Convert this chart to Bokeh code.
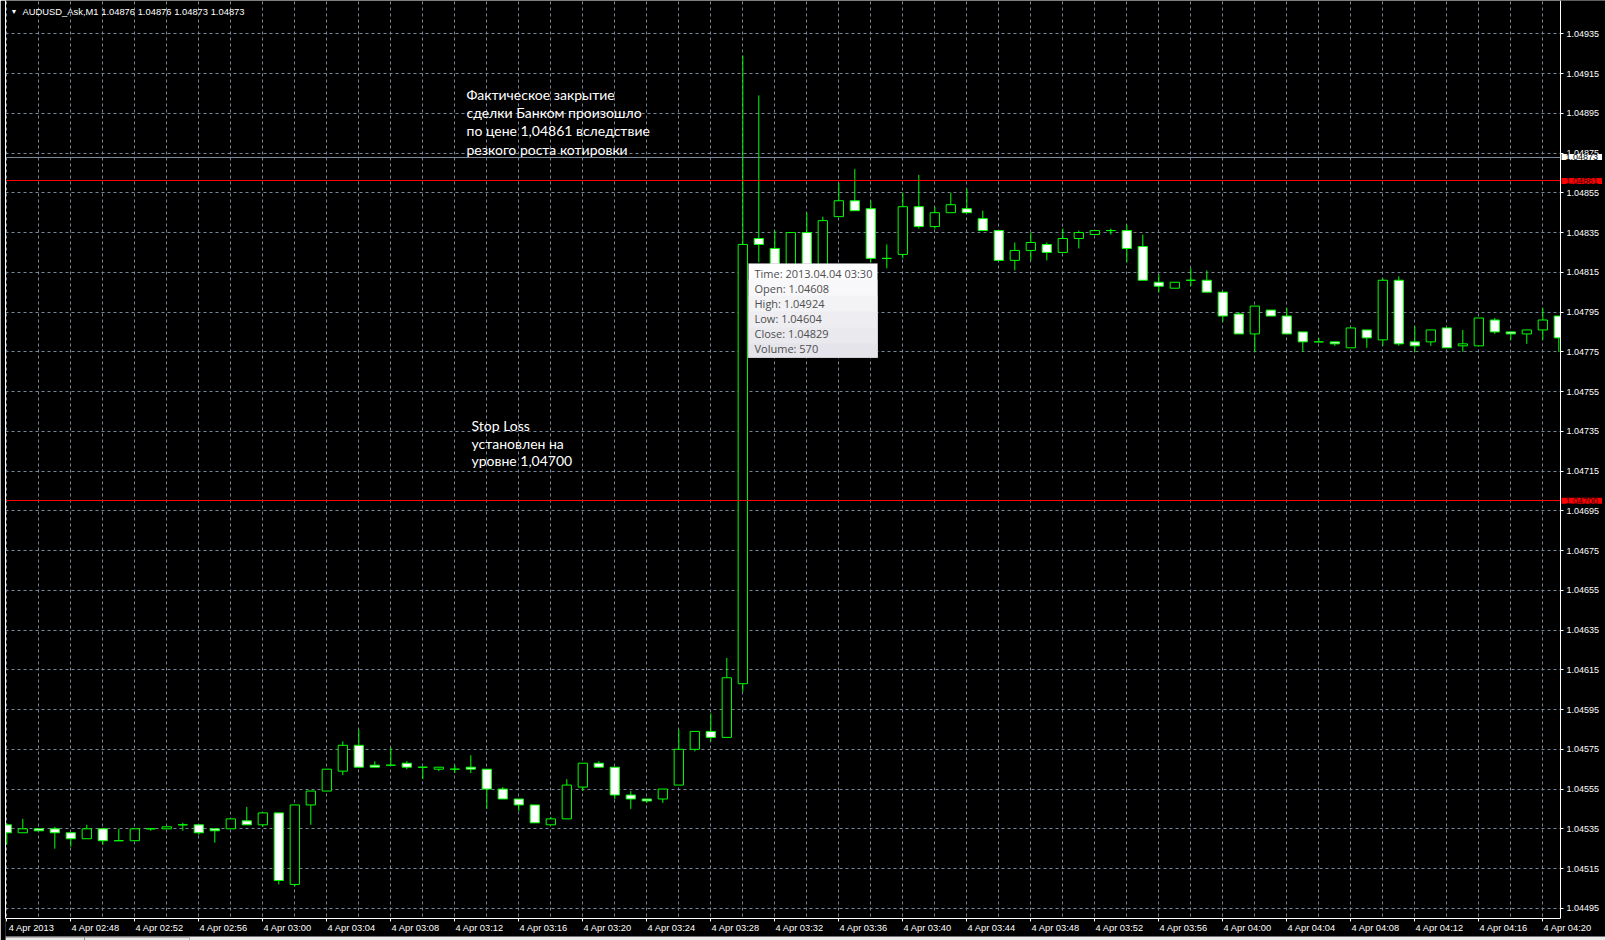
import pandas as pd
from bokeh.plotting import figure
from bokeh.models import (Range1d, LinearAxis, FixedTicker, NumeralTickFormatter,
                          Label, BoxAnnotation, ColumnDataSource)
from bokeh.embed import file_html
from bokeh.resources import INLINE

# ---- chart data -------------------------------------------------------------
symbol = "AUDUSD_Ask,M1"
last_quote = ["1.04876", "1.04876", "1.04873", "1.04873"]
start_time = "2013-04-04 02:44"

opens = [1.04537, 1.04533, 1.04535, 1.04535, 1.04533, 1.04530, 1.04535, 1.04529, 1.04529, 1.04535,
         1.04535, 1.04537, 1.04537, 1.04535, 1.04535, 1.04539, 1.04537, 1.04543, 1.04507, 1.04547,
         1.04554, 1.04564, 1.04577, 1.04567, 1.04567, 1.04568, 1.04566, 1.04565, 1.04565, 1.04566,
         1.04565, 1.04555, 1.04550, 1.04547, 1.04537, 1.04540, 1.04556, 1.04568, 1.04566, 1.04552,
         1.04550, 1.04550, 1.04557, 1.04575, 1.04584, 1.04581, 1.04608, 1.04832, 1.04827, 1.04815,
         1.04835, 1.04818, 1.04843, 1.04851, 1.04847, 1.04822, 1.04824, 1.04848, 1.04838, 1.04845,
         1.04847, 1.04842, 1.04836, 1.04821, 1.04826, 1.04829, 1.04825, 1.04832, 1.04834, 1.04836,
         1.04836, 1.04828, 1.04810, 1.04807, 1.04811, 1.04811, 1.04805, 1.04794, 1.04784, 1.04796,
         1.04793, 1.04785, 1.04780, 1.04780, 1.04777, 1.04786, 1.04781, 1.04811, 1.04780, 1.04780,
         1.04787, 1.04778, 1.04778, 1.04791, 1.04785, 1.04784, 1.04786, 1.04793]
highs = [1.04538, 1.04540, 1.04535, 1.04536, 1.04533, 1.04537, 1.04535, 1.04535, 1.04535, 1.04535,
         1.04536, 1.04538, 1.04537, 1.04535, 1.04540, 1.04546, 1.04543, 1.04543, 1.04547, 1.04554,
         1.04565, 1.04579, 1.04585, 1.04569, 1.04576, 1.04569, 1.04566, 1.04566, 1.04567, 1.04572,
         1.04565, 1.04556, 1.04550, 1.04547, 1.04541, 1.04560, 1.04568, 1.04569, 1.04566, 1.04554,
         1.04550, 1.04555, 1.04585, 1.04584, 1.04593, 1.04621, 1.04924, 1.04904, 1.04836, 1.04835,
         1.04845, 1.04843, 1.04860, 1.04867, 1.04851, 1.04829, 1.04855, 1.04864, 1.04848, 1.04855,
         1.04857, 1.04846, 1.04836, 1.04830, 1.04835, 1.04830, 1.04837, 1.04836, 1.04836, 1.04837,
         1.04839, 1.04834, 1.04814, 1.04810, 1.04817, 1.04816, 1.04805, 1.04795, 1.04798, 1.04796,
         1.04797, 1.04785, 1.04782, 1.04780, 1.04787, 1.04786, 1.04812, 1.04813, 1.04788, 1.04786,
         1.04787, 1.04786, 1.04792, 1.04792, 1.04785, 1.04786, 1.04797, 1.04793]
lows = [1.04527, 1.04533, 1.04534, 1.04525, 1.04526, 1.04530, 1.04527, 1.04529, 1.04529, 1.04534,
        1.04535, 1.04534, 1.04532, 1.04528, 1.04535, 1.04537, 1.04536, 1.04507, 1.04506, 1.04537,
        1.04554, 1.04562, 1.04566, 1.04566, 1.04567, 1.04565, 1.04560, 1.04564, 1.04563, 1.04563,
        1.04545, 1.04550, 1.04544, 1.04538, 1.04537, 1.04540, 1.04554, 1.04566, 1.04550, 1.04545,
        1.04548, 1.04548, 1.04557, 1.04574, 1.04579, 1.04581, 1.04604, 1.04820, 1.04812, 1.04813,
        1.04815, 1.04816, 1.04843, 1.04846, 1.04820, 1.04817, 1.04822, 1.04837, 1.04837, 1.04845,
        1.04845, 1.04836, 1.04821, 1.04816, 1.04821, 1.04821, 1.04825, 1.04827, 1.04834, 1.04834,
        1.04820, 1.04811, 1.04805, 1.04807, 1.04808, 1.04805, 1.04790, 1.04784, 1.04775, 1.04793,
        1.04784, 1.04775, 1.04780, 1.04778, 1.04777, 1.04777, 1.04778, 1.04778, 1.04775, 1.04778,
        1.04777, 1.04775, 1.04778, 1.04784, 1.04781, 1.04779, 1.04781, 1.04775]
closes = [1.04533, 1.04535, 1.04534, 1.04533, 1.04530, 1.04535, 1.04529, 1.04529, 1.04535, 1.04535,
          1.04536, 1.04537, 1.04533, 1.04534, 1.04540, 1.04537, 1.04543, 1.04509, 1.04547, 1.04554,
          1.04565, 1.04577, 1.04566, 1.04566, 1.04567, 1.04566, 1.04566, 1.04566, 1.04565, 1.04565,
          1.04555, 1.04550, 1.04547, 1.04538, 1.04540, 1.04557, 1.04568, 1.04566, 1.04552, 1.04550,
          1.04549, 1.04555, 1.04575, 1.04584, 1.04581, 1.04611, 1.04829, 1.04829, 1.04815, 1.04835,
          1.04818, 1.04841, 1.04851, 1.04846, 1.04822, 1.04822, 1.04848, 1.04838, 1.04845, 1.04849,
          1.04845, 1.04836, 1.04821, 1.04826, 1.04830, 1.04825, 1.04832, 1.04835, 1.04836, 1.04836,
          1.04827, 1.04811, 1.04808, 1.04810, 1.04811, 1.04805, 1.04793, 1.04784, 1.04798, 1.04793,
          1.04784, 1.04780, 1.04780, 1.04779, 1.04787, 1.04782, 1.04811, 1.04779, 1.04778, 1.04786,
          1.04777, 1.04779, 1.04792, 1.04785, 1.04784, 1.04786, 1.04791, 1.04782]

price_ticks = [1.04495, 1.04515, 1.04535, 1.04555, 1.04575, 1.04595, 1.04615, 1.04635,
               1.04655, 1.04675, 1.04695, 1.04715, 1.04735, 1.04755, 1.04775, 1.04795,
               1.04815, 1.04835, 1.04855, 1.04875, 1.04895, 1.04915, 1.04935]
time_tick_bars = [0, 4, 8, 12, 16, 20, 24, 28, 32, 36, 40, 44, 48, 52, 56, 60, 64, 68, 72,
                  76, 80, 84, 88, 92, 96]
time_tick_labels = ["4 Apr 2013", "4 Apr 02:48", "4 Apr 02:52", "4 Apr 02:56", "4 Apr 03:00",
                    "4 Apr 03:04", "4 Apr 03:08", "4 Apr 03:12", "4 Apr 03:16", "4 Apr 03:20",
                    "4 Apr 03:24", "4 Apr 03:28", "4 Apr 03:32", "4 Apr 03:36", "4 Apr 03:40",
                    "4 Apr 03:44", "4 Apr 03:48", "4 Apr 03:52", "4 Apr 03:56", "4 Apr 04:00",
                    "4 Apr 04:04", "4 Apr 04:08", "4 Apr 04:12", "4 Apr 04:16", "4 Apr 04:20"]

bid_line = 1.04873
close_level = 1.04861
stop_loss = 1.04700

hover_bar = 46
hover_volume = 570

note_close = ["Фактическое закрытие", "сделки Банком произошло",
              "по цене 1,04861 вследствие", "резкого роста котировки"]
note_stop = ["Stop Loss", "установлен на", "уровне 1,04700"]

# ---- styling ------------------------------------------------------------------
LIME = "#00ff00"
GRID = "#778899"
AXIS_FONT = "Liberation Sans"

times = pd.date_range(start_time, periods=len(opens), freq="min")
bars = list(range(len(opens)))
bull = [c >= o for o, c in zip(opens, closes)]

src = ColumnDataSource(dict(
    x=bars, o=opens, h=highs, l=lows, c=closes,
    top=[max(o, c) for o, c in zip(opens, closes)],
    bottom=[min(o, c) for o, c in zip(opens, closes)],
    fill=["black" if b else "white" for b in bull],
))

# Canvas geometry: the plotting frame fills the canvas (bar a 5 px left edge);
# the chart window ends at x=1560 / y=918 where both scales are drawn.
W, H = 1605, 940
LEFT = 5
WIN_RIGHT, WIN_BOTTOM = 1560, 918
bar_px = 16.0
x0 = -(6.3 - LEFT) / bar_px
x_edge = x0 + (WIN_RIGHT - LEFT) / bar_px
px_per_unit = 198750.0
y_top = 1.04935 + 33.3 / px_per_unit
y_edge = y_top - WIN_BOTTOM / px_per_unit


def sx(cx):
    return cx - LEFT


def sy(cy):
    return H - cy


p = figure(width=W, height=H, output_backend="svg", toolbar_location=None,
           x_range=Range1d(x0, x0 + (W - LEFT) / bar_px),
           y_range=Range1d(y_top - H / px_per_unit, y_top),
           y_axis_location="right",
           min_border_left=LEFT, min_border_right=0,
           min_border_top=0, min_border_bottom=0,
           background_fill_color="black", border_fill_color="black",
           outline_line_color=None)

# grid
p.ygrid.ticker = FixedTicker(ticks=price_ticks)
p.xgrid.ticker = FixedTicker(ticks=list(range(0, len(bars), 2)))
for g in (p.xgrid, p.ygrid):
    g.grid_line_color = GRID
    g.grid_line_dash = "3 3"
    g.grid_line_width = 1

# price scale
ya = p.yaxis[0]
ya.fixed_location = x_edge
ya.bounds = (y_edge, y_top)
ya.ticker = FixedTicker(ticks=price_ticks)
ya.formatter = NumeralTickFormatter(format="0.00000")
ya.axis_line_color = "white"
ya.major_tick_line_color = "white"
ya.major_tick_out = 3
ya.major_tick_in = 0
ya.minor_tick_line_color = None
ya.major_label_standoff = 3
ya.major_label_text_color = "white"
ya.major_label_text_font = AXIS_FONT
ya.major_label_text_font_size = "9px"

# time scale: tick marks on the bars ...
xa = p.xaxis[0]
xa.fixed_location = y_edge
xa.bounds = (x0, x_edge)
xa.ticker = FixedTicker(ticks=time_tick_bars)
xa.axis_line_color = "white"
xa.major_tick_line_color = "white"
xa.major_tick_out = 3
xa.major_tick_in = 0
xa.minor_tick_line_color = None
xa.major_label_text_color = None
xa.major_label_text_font_size = "0px"

# ... and the labels starting right of each tick
label_shift = 1.55
label_ticks = [b + label_shift for b in time_tick_bars]
xl = LinearAxis(ticker=FixedTicker(ticks=label_ticks),
                major_label_overrides={t: s for t, s in zip(label_ticks, time_tick_labels)},
                fixed_location=y_edge,
                axis_line_color=None, major_tick_line_color=None, minor_tick_line_color=None,
                major_tick_out=3, major_tick_in=0, major_label_standoff=1,
                major_label_text_color="white", major_label_text_font=AXIS_FONT,
                major_label_text_font_size="9.3px")
p.add_layout(xl, "below")

# left window edge
edge = LinearAxis(ticker=FixedTicker(ticks=[]), axis_line_color="white",
                  bounds=(y_edge, y_top),
                  major_tick_out=0, major_tick_in=0, major_label_text_font_size="0px",
                  major_label_text_color=None, minor_tick_line_color=None)
p.add_layout(edge, "left")

# candles
p.segment(x0="x", y0="l", x1="x", y1="h", source=src, line_color=LIME, line_width=1)
p.vbar(x="x", top="top", bottom="bottom", width=0.58, source=src,
       fill_color="fill", line_color=LIME, line_width=1)

# horizontal levels
p.hspan(y=[bid_line], line_color=GRID, line_width=1)
p.hspan(y=[close_level, stop_loss], line_color="red", line_width=1)

# the chart window ends at the two scales
for box in (BoxAnnotation(left=x_edge, fill_color="black", fill_alpha=1.0,
                          line_color=None, level="glyph"),
            BoxAnnotation(top=y_edge, fill_color="black", fill_alpha=1.0,
                          line_color=None, level="glyph")):
    p.renderers.append(box)

# tab strip along the bottom of the window
p.add_layout(BoxAnnotation(top=sy(936), left_units="screen", top_units="screen",
                           fill_color="#ececec", fill_alpha=1.0,
                           line_color="#6a6a6a", line_width=1))
for l_px, r_px in ((0, 84), (84, 189)):
    p.add_layout(BoxAnnotation(left=sx(l_px), right=sx(r_px), top=sy(937),
                               left_units="screen", right_units="screen",
                               top_units="screen", fill_alpha=0.0,
                               line_color="#303030", line_width=1))

# price tags on the scale
def price_tag(level, bg, fg):
    p.add_layout(Label(x=sx(1561), y=level, x_units="screen", y_units="data",
                       text=f"{level:.5f}", text_baseline="middle", text_align="left",
                       text_font=AXIS_FONT, text_font_size="9px", text_color=fg,
                       background_fill_color=bg, padding=(4, 0)))

price_tag(bid_line, "white", "black")
price_tag(close_level, "red", "#3a0000")
price_tag(stop_loss, "red", "#3a0000")

# header
p.add_layout(Label(x=sx(10), y=sy(11), x_units="screen", y_units="screen",
                   text="▼", text_font_size="7px", text_color="white",
                   text_baseline="middle"))
p.add_layout(Label(x=sx(22), y=sy(11), x_units="screen", y_units="screen",
                   text=symbol + "  " + " ".join(last_quote), text_font=AXIS_FONT,
                   text_font_size="9.4px", text_color="white", text_baseline="middle"))

# notes
NOTE_FONT = "Lato"
for i, line in enumerate(note_close):
    p.add_layout(Label(x=sx(466), y=sy(94 + 18.2 * i), x_units="screen",
                       y_units="screen", text=line, text_font=NOTE_FONT,
                       text_font_size="14px", text_color="white", text_baseline="middle"))
for i, line in enumerate(note_stop):
    p.add_layout(Label(x=sx(471), y=sy(425 + 17.7 * i), x_units="screen",
                       y_units="screen", text=line, text_font=NOTE_FONT,
                       text_font_size="14px", text_color="white", text_baseline="middle"))

# data window of the hovered bar
hb = hover_bar
tip_lines = [f"Time: {times[hb]:%Y.%m.%d %H:%M}",
             f"Open: {opens[hb]:.5f}",
             f"High: {highs[hb]:.5f}",
             f"Low:  {lows[hb]:.5f}",
             f"Close: {closes[hb]:.5f}",
             f"Volume: {hover_volume}"]
tip_l, tip_r, tip_t, tip_b = 748, 877, 263, 357
bands = ["#fdfdfe", "#f8f8fa", "#f3f3f6", "#eeeef2", "#e9e9ee", "#e4e4ea"]
for i, col in enumerate(bands):
    p.add_layout(BoxAnnotation(left=sx(tip_l), right=sx(tip_r),
                               top=sy(tip_t + 16 * i), bottom=sy(tip_b),
                               left_units="screen", right_units="screen",
                               top_units="screen", bottom_units="screen",
                               fill_color=col, fill_alpha=1.0, line_color=None))
p.add_layout(BoxAnnotation(left=sx(tip_l), right=sx(tip_r),
                           top=sy(tip_t), bottom=sy(tip_b),
                           left_units="screen", right_units="screen",
                           top_units="screen", bottom_units="screen",
                           fill_alpha=0.0, line_color="#9c9ca4", line_width=1))
for i, line in enumerate(tip_lines):
    p.add_layout(Label(x=sx(754), y=sy(273 + 15 * i), x_units="screen",
                       y_units="screen", text=line, text_font="Open Sans",
                       text_font_size="11px", text_color="#4e4e4e",
                       text_baseline="middle"))

open("out.html", "w").write(file_html(p, INLINE))
